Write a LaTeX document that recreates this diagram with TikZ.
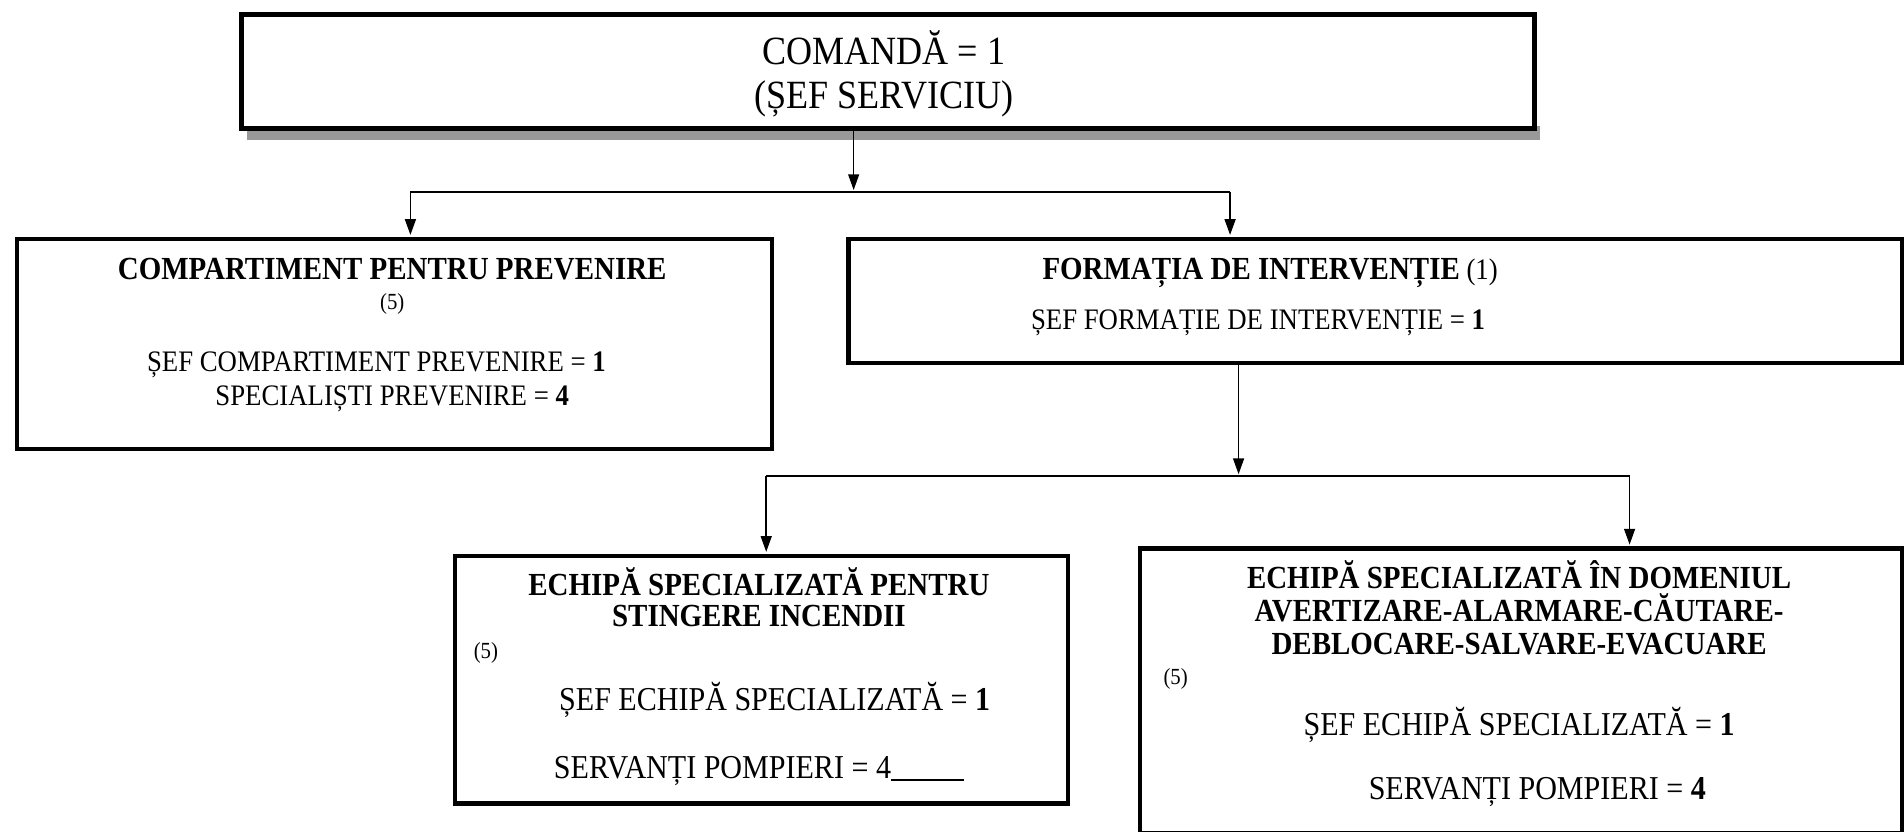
\documentclass[tikz,border=0pt]{standalone}
\usepackage{fontspec}
\setmainfont[FakeStretch=0.9]{Liberation Serif}
\usetikzlibrary{arrows.meta}
\begin{document}
\begin{tikzpicture}[x=1pt,y=-1pt,
  box/.style={draw, line width=3.5pt, inner sep=0pt, fill=white},
  conn/.style={line width=1.3pt},
  arr/.style={conn, -{Triangle[length=13pt,width=9pt]}, shorten >=1.5pt},
  txt/.style={inner sep=0pt, anchor=base, font=\fontsize{24.5}{29}\selectfont},
  txtb/.style={inner sep=0pt, anchor=base, font=\fontsize{27.5}{32}\selectfont},
  ttl/.style={txt, font=\fontsize{26.5}{30}\selectfont\bfseries},
  big/.style={inner sep=0pt, anchor=base, font=\fontsize{33}{38}\selectfont},
  small/.style={inner sep=0pt, anchor=base, font=\fontsize{19}{22}\selectfont},
  shadow/.style={fill=black!40, draw=none}]
\useasboundingbox (0,0) rectangle (1568,685);
% top box with shadow
\fill[shadow] (203,104) rectangle (1268,115);
\node[box, line width=4pt, minimum width=1065pt, minimum height=94pt, anchor=north west] (top) at (197,10) {};
\node[big] (t1) at (728,53) {COMANDĂ = 1};
\node[big] (t2) at (728,89) {(ȘEF SERVICIU)};
% level 2 boxes
\node[box, minimum width=622pt, minimum height=173pt, anchor=north west] (prev) at (12,195) {};
\node[ttl] (p1) at (323,230) {COMPARTIMENT PENTRU PREVENIRE};
\node[small] (p2) at (323,255) {(5)};
\node[txt] (p3) at (310,306) {ȘEF COMPARTIMENT PREVENIRE = \textbf{1}};
\node[txt] (p4) at (323,334) {SPECIALIȘTI PREVENIRE = \textbf{4}};
\node[box, minimum width=868pt, minimum height=102pt, anchor=north west] (form) at (697,195) {};
\node[txt] (f1) at (1046,230) {\textbf{\fontsize{26.5}{30}\selectfont FORMAȚIA DE INTERVENȚIE} (1)};
\node[txt] (f2) at (1036,271) {ȘEF FORMAȚIE DE INTERVENȚIE = \textbf{1}};
% level 3 boxes
\node[box, minimum width=505pt, minimum height=204pt, anchor=north west] (stin) at (373,456) {};
\node[ttl] (s1) at (625,490) {ECHIPĂ SPECIALIZATĂ PENTRU};
\node[ttl] (s2) at (625,516) {STINGERE INCENDII};
\node[small, anchor=base west] (s3) at (390,542) {(5)};
\node[txtb] (s4) at (638,585) {ȘEF ECHIPĂ SPECIALIZATĂ = \textbf{1}};
\node[txtb] (s5) at (625,641) {SERVANȚI POMPIERI = 4\rule[-2pt]{60pt}{1.3pt}};
\node[box, minimum width=628pt, minimum height=234pt, anchor=north west] (aver) at (937,450) {};
\node[ttl] (a1) at (1251,485) {ECHIPĂ SPECIALIZATĂ ÎN DOMENIUL};
\node[ttl] (a2) at (1251,512) {AVERTIZARE-ALARMARE-CĂUTARE-};
\node[ttl] (a3) at (1251,539) {DEBLOCARE-SALVARE-EVACUARE};
\node[small, anchor=base west] (a4) at (958,564) {(5)};
\node[txtb] (a5) at (1251,606) {ȘEF ECHIPĂ SPECIALIZATĂ = \textbf{1}};
\node[txtb] (a6) at (1266,658) {SERVANȚI POMPIERI = \textbf{4}};
% connectors level 1
\coordinate (j1) at (703,158);
\coordinate (jl) at (338,158);
\coordinate (jr) at (1013,158);
\draw[arr] (top.south -| j1) -- (j1);
\draw[conn] (jl) -- (jr);
\draw[arr] (jl) -- (jl |- prev.north);
\draw[arr] (jr) -- (jr |- form.north);
% connectors level 2
\coordinate (j2) at (1020,392);
\coordinate (kl) at (631,392);
\coordinate (kr) at (1342,392);
\draw[arr] (form.south -| j2) -- (j2);
\draw[conn] (kl) -- (kr);
\draw[arr] (kl) -- (kl |- stin.north);
\draw[arr] (kr) -- (kr |- aver.north);
\end{tikzpicture}
\end{document}
